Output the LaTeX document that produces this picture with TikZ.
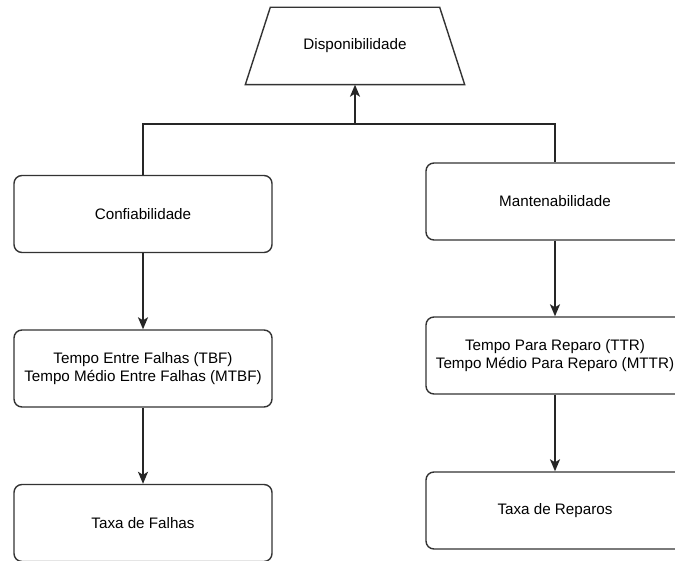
\documentclass[tikz,border=0pt]{standalone}
\usepackage{fontspec}
\setmainfont{Liberation Sans}
\usetikzlibrary{arrows.meta,calc}
\begin{document}
\begin{tikzpicture}[x=1pt,y=-1pt,
  every node/.style={font=\fontsize{15.2}{18.5}\selectfont, text=black, align=center},
  box/.style={draw=black!80, line width=1.4pt, rounded corners=8pt, fill=white,
    minimum width=258pt, minimum height=77pt, inner sep=0pt},
  topbox/.style={minimum width=219pt, minimum height=77pt, inner sep=0pt},
  outline/.style={draw=black!80, line width=1.4pt, fill=white, line join=miter},
  link/.style={draw=black!85, line width=1.6pt},
  arrow/.style={link, -{Stealth[length=12pt,width=10pt,inset=3pt]}}]
  \useasboundingbox (0,0) rectangle (675,561);
  \clip (0,0) rectangle (675,561);
  \fill[white] (0,0) rectangle (675,561);

  % top element: trapezoid outline around a plain text node
  \node[topbox] (disp) at (355,46) {};
  \draw[outline] (disp.south west) -- ($(disp.north west)+(25,0)$)
    -- ($(disp.north east)+(-25,0)$) -- (disp.south east) -- cycle;
  \node at (disp.center) {Disponibilidade};

  % left column
  \node[box] (conf) at (143,214) {Confiabilidade};
  \node[box] (tbf)  at (143,368.5) {Tempo Entre Falhas (TBF)\\Tempo Médio Entre Falhas (MTBF)};
  \node[box] (taxf) at (143,523) {Taxa de Falhas};

  % right column
  \node[box] (mant) at (555,201.5) {Mantenabilidade};
  \node[box] (ttr)  at (555,355.5) {Tempo Para Reparo (TTR)\\Tempo Médio Para Reparo (MTTR)};
  \node[box] (taxr) at (555,510.5) {Taxa de Reparos};

  % junction joining both branches
  \coordinate (j) at (355,124);

  \draw[link] (conf.north) |- (j) -| (mant.north);
  \draw[arrow] (j) -- (disp.south);

  \draw[arrow] (conf.south) -- (tbf.north);
  \draw[arrow] (tbf.south) -- (taxf.north);
  \draw[arrow] (mant.south) -- (ttr.north);
  \draw[arrow] (ttr.south) -- (taxr.north);
\end{tikzpicture}
\end{document}
